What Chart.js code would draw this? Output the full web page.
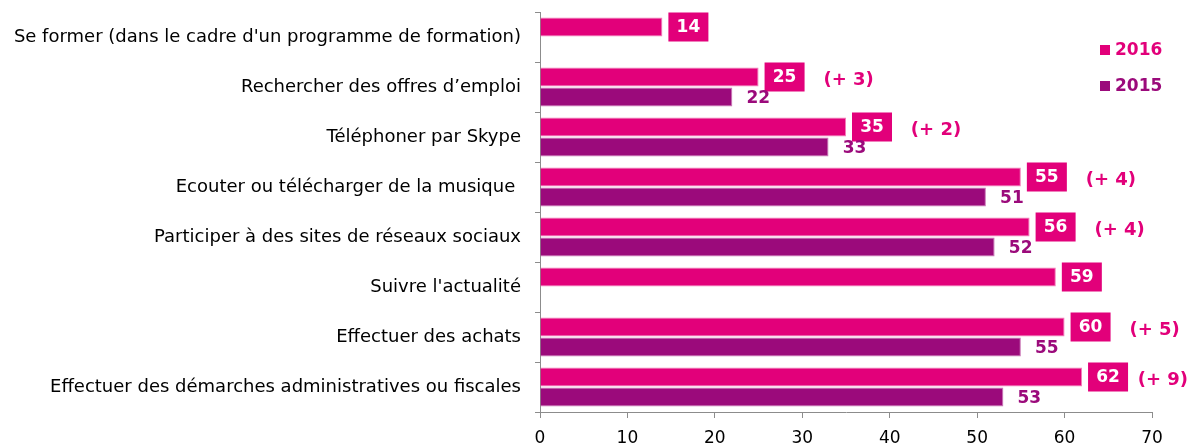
<!DOCTYPE html>
<html>
<head>
<meta charset="utf-8">
<script src="https://cdn.jsdelivr.net/npm/chart.js@4/dist/chart.umd.min.js"></script>
<style>
  html, body { margin: 0; padding: 0; background: #fff; }
  #wrap { width: 1192px; height: 446px; }
</style>
</head>
<body>
<div id="wrap"><canvas id="chart"></canvas></div>
<script>
const categories = [
  "Se former (dans le cadre d'un programme de formation)",
  'Rechercher des offres d\u2019emploi',
  'Téléphoner par Skype',
  'Ecouter ou télécharger de la musique ',
  'Participer à des sites de réseaux sociaux',
  "Suivre l'actualité",
  'Effectuer des achats',
  'Effectuer des démarches administratives ou fiscales',
];
const values2016 = [14, 25, 35, 55, 56, 59, 60, 62];
const values2015 = [null, 22, 33, 51, 52, null, 55, 53];
const xTicks = [0, 10, 20, 30, 40, 50, 60, 70];

const MAGENTA = '#E2007A';
const PURPLE = '#9B0A7B';
const FONT = '"DejaVu Sans", Verdana, sans-serif';

// --- Value boxes, 2015 labels, differences, legend ---
const labelsPlugin = {
  id: 'labels',
  afterDatasetsDraw(chart) {
    const ctx = chart.ctx;
    ctx.save();
    ctx.textAlign = 'center';
    ctx.textBaseline = 'middle';

    const m16 = chart.getDatasetMeta(0);
    const m15 = chart.getDatasetMeta(1);

    m16.data.forEach((bar, i) => {
      const cx = bar.x + 26;
      ctx.font = `bold 17px ${FONT}`;
      ctx.fillStyle = MAGENTA;
      ctx.fillRect(cx - 20, bar.y - 14.5, 40, 29);
      ctx.fillStyle = '#fff';
      ctx.fillText(String(values2016[i]), cx, bar.y + 1);

      const prev = values2015[i];
      if (prev != null) {
        const d = values2016[i] - prev;
        const txt = `(${d >= 0 ? '+' : '-'} ${Math.abs(d)})`;
        ctx.font = `bold 18px ${FONT}`;
        const w = ctx.measureText(txt).width;
        const dx = Math.min(bar.x + 90, chart.width - 4 - w / 2);
        ctx.fillStyle = MAGENTA;
        ctx.fillText(txt, dx, bar.y + 3);
      }
    });

    ctx.font = `bold 17px ${FONT}`;
    m15.data.forEach((bar, i) => {
      if (values2015[i] == null) return;
      ctx.fillStyle = PURPLE;
      ctx.fillText(String(values2015[i]), bar.x + 26, bar.y + 2);
    });

    // legend
    const items = [
      { text: '2016', color: MAGENTA, y: 50 },
      { text: '2015', color: PURPLE, y: 86 },
    ];
    ctx.textAlign = 'left';
    items.forEach(it => {
      ctx.fillStyle = it.color;
      ctx.fillRect(1100, it.y - 5, 10, 10);
      ctx.fillText(it.text, 1115, it.y + 1);
    });
    ctx.restore();
  },
};

new Chart(document.getElementById('chart'), {
  type: 'bar',
  data: {
    labels: categories,
    datasets: [
      {
        label: '2016',
        data: values2016,
        backgroundColor: MAGENTA,
        borderColor: '#F37DB8',
        borderWidth: 1,
        categoryPercentage: 0.8,
        barPercentage: 0.96,
      },
      {
        label: '2015',
        data: values2015,
        backgroundColor: PURPLE,
        borderColor: '#C874B4',
        borderWidth: 1,
        categoryPercentage: 0.8,
        barPercentage: 0.96,
      },
    ],
  },
  options: {
    indexAxis: 'y',
    responsive: true,
    maintainAspectRatio: false,
    animation: false,
    layout: { padding: { top: 12, right: 40, left: 0, bottom: 0 } },
    plugins: {
      legend: { display: false },
      tooltip: { enabled: false },
    },
    scales: {
      x: {
        min: 0,
        max: 70,
        afterBuildTicks: s => { s.ticks = xTicks.map(v => ({ value: v })); },
        afterFit: s => { s.height = 34; },
        ticks: { color: '#000', font: { family: FONT, size: 17 }, padding: 10 },
        grid: { drawOnChartArea: false, drawTicks: true, tickLength: 6, color: '#8c8c8c' },
        border: { color: '#8c8c8c', width: 1 },
      },
      y: {
        afterFit: s => { s.width = 540; s.paddingTop = 0; s.paddingBottom = 0; },
        ticks: { color: '#000', font: { family: FONT, size: 18 }, padding: 14 },
        grid: { drawOnChartArea: false, drawTicks: true, tickLength: 5, color: '#8c8c8c', offset: true },
        border: { color: '#8c8c8c', width: 1 },
      },
    },
  },
  plugins: [labelsPlugin],
});
</script>
</body>
</html>
